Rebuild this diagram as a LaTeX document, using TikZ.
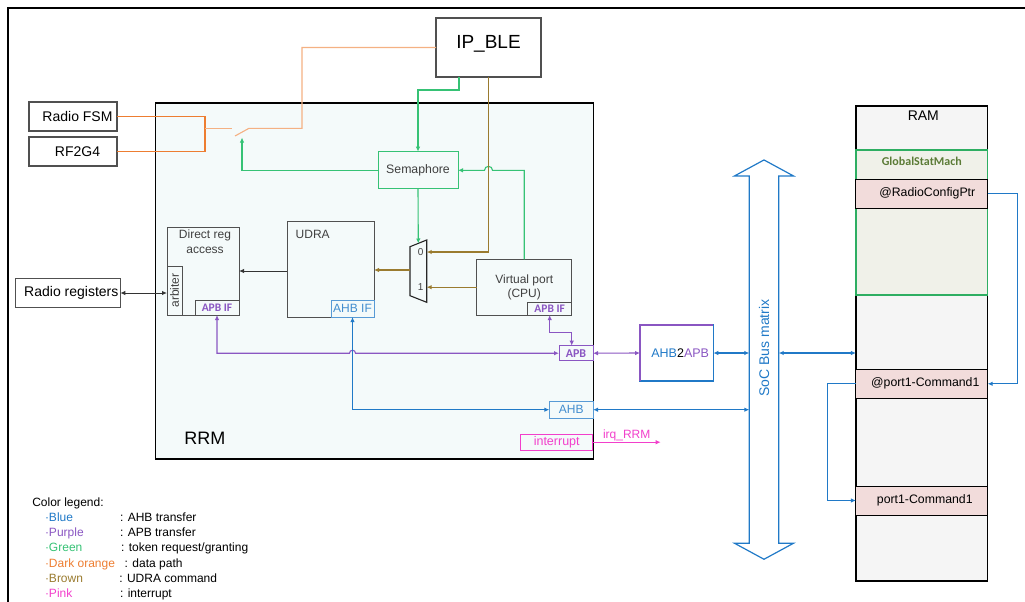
\documentclass[tikz,border=0pt]{standalone}
\usepackage{fontspec}
\setmainfont{Liberation Sans}
\newfontfamily\carlito{Carlito}
\usetikzlibrary{arrows.meta,calc,positioning}
\definecolor{rrmBlue}{HTML}{2079C7}
\definecolor{rrmPurple}{HTML}{8A56C2}
\definecolor{rrmGreen}{HTML}{36C275}
\definecolor{rrmOrange}{HTML}{ED7D31}
\definecolor{rrmLightOrange}{HTML}{F4B183}
\definecolor{rrmBrown}{HTML}{9A7B2F}
\definecolor{rrmPink}{HTML}{F23FCB}
\definecolor{rrmGray}{HTML}{505050}
\definecolor{rrmText}{HTML}{404040}
\definecolor{rrmFill}{HTML}{F4FAFA}
\definecolor{ramFill}{HTML}{F5F5F5}
\definecolor{ramPink}{HTML}{F2DCDB}
\definecolor{gsmFill}{HTML}{F0F1E9}
\definecolor{gsmGreen}{HTML}{2EAE62}
\definecolor{gsmText}{HTML}{5B7B36}

\begin{document}
\begin{tikzpicture}[x=1pt,y=-1pt, >={Latex[length=5pt,width=4.5pt]},
  every node/.style={inner sep=0pt, outer sep=0pt},
  extbox/.style={draw=rrmGray, line width=1.1pt, fill=white, font=\fontsize{14}{16}\selectfont},
  blockbox/.style={draw=rrmGray, line width=1pt, text=rrmText, font=\fontsize{12}{14}\selectfont, align=center},
  apbif/.style={draw=rrmGray, line width=1pt, text=rrmPurple, font=\carlito\bfseries\fontsize{11.5}{13}\selectfont},
  ahbif/.style={draw=rrmBlue!75, line width=1pt, text=rrmBlue!85, font=\fontsize{12}{14}\selectfont},
  ramslot/.style={draw=black, line width=1pt, fill=ramPink, minimum width=131.7pt, minimum height=29pt, font=\fontsize{12.3}{14}\selectfont},
  ahbline/.style={rrmBlue, line width=1.1pt},
  apbline/.style={rrmPurple, line width=1.1pt},
  tokline/.style={rrmGreen, line width=1.1pt},
  dataline/.style={rrmOrange, line width=1.1pt},
  lightdata/.style={rrmLightOrange, line width=1.1pt},
  udraline/.style={rrmBrown, line width=1.1pt},
  irqline/.style={rrmPink, line width=1.1pt},
  regline/.style={black!80, line width=1pt},
  legtext/.style={anchor=base west, font=\fontsize{12}{14}\selectfont}]
  \useasboundingbox (0,0) rectangle (1025,602);
  \draw[line width=1.5pt] (8,610) -- (8,8) -- (1030,8);

  % RRM block
  \node[draw=black, line width=1.5pt, fill=rrmFill, minimum width=438pt, minimum height=356pt,
    label={[anchor=base west, font=\fontsize{18}{20}\selectfont, xshift=28.8pt, yshift=14.3pt]south west:RRM}] (rrm) at (374.5,281.2) {};

  % outside blocks
  \node[extbox, minimum width=105pt, minimum height=59pt, font=\fontsize{19}{22}\selectfont, text depth=12pt] (ipble) at (488.5,47.5) {IP\_BLE};
  \node[extbox, minimum width=88pt, minimum height=29pt] (fsm) at (73,116.5) {\hspace*{9pt}Radio FSM};
  \node[extbox, minimum width=88pt, minimum height=29pt] (rf) at (73,151.5) {\hspace*{9pt}RF2G4};
  \node[extbox, minimum width=105pt, minimum height=29.4pt] (radreg) at (67.8,293) {\hspace*{7pt}Radio registers};

  % inside RRM
  \node[draw=rrmGreen, line width=1pt, minimum width=80pt, minimum height=37.3pt, text=rrmText, font=\fontsize{12.3}{14}\selectfont] (sema) at (418,170.3) {Semaphore};
  \node[blockbox, minimum width=72pt, minimum height=88pt,
    label={[anchor=north, align=center, text=rrmText, font=\fontsize{12}{15}\selectfont, yshift=-3pt, xshift=2pt]north:Direct reg\\access}] (direct) at (203,271) {};
  \node[blockbox, minimum width=15pt, minimum height=49pt] (arbiter) at (174.5,290.5) {};
  \node[rotate=90, text=rrmText, font=\fontsize{12}{14}\selectfont] (arbtext) at (arbiter.center) {arbiter};
  \node[apbif, minimum width=44pt, minimum height=15pt, anchor=south east] (apbifd) at (direct.south east) {APB IF};
  \node[blockbox, minimum width=87pt, minimum height=96pt,
    label={[anchor=north west, text=rrmText, font=\fontsize{12}{14}\selectfont, xshift=8.7pt, yshift=-9.7pt]north west:UDRA}] (udra) at (330.5,269) {};
  \node[ahbif, minimum width=43pt, minimum height=17pt, anchor=south east] (ahbifu) at (udra.south east) {AHB IF};
  \node[blockbox, minimum width=95pt, minimum height=55.7pt] (vport) at (524.2,287.2) {Virtual port\\(CPU)};
  \node[apbif, minimum width=44pt, minimum height=12.7pt, anchor=south east] (apbifv) at (vport.south east) {APB IF};

  % mux
  \draw[black!85, line width=1.1pt] (410,246.7) -- (426.7,240) -- (426.7,302.3) -- (410,295.7) -- cycle;
  \coordinate (muxsel) at (418.3,243.5);
  \coordinate (mux0) at (426.7,252);
  \coordinate (mux1) at (426.7,286.7);
  \coordinate (muxout) at (410,270);
  \node[font=\fontsize{10}{12}\selectfont, text=rrmText] (mux0txt) at (420.7,252) {0};
  \node[font=\fontsize{10}{12}\selectfont, text=rrmText] (mux1txt) at (420.7,286.7) {1};

  % bus ports
  \node[draw=rrmPurple, line width=1pt, minimum width=34pt, minimum height=15pt, text=rrmPurple, font=\carlito\bfseries\fontsize{12}{14}\selectfont] (apb) at (576,353.2) {APB};
  \node[ahbif, minimum width=43.7pt, minimum height=17.3pt] (ahb) at (571.2,409.7) {AHB};
  \node[draw=rrmPink, line width=1pt, minimum width=72pt, minimum height=15.7pt, text=rrmPink, font=\fontsize{12.5}{14}\selectfont] (intr) at (556.7,442.2) {interrupt};

  % bridge and bus matrix
  \node[draw=rrmBlue, line width=1.2pt, minimum width=73.3pt, minimum height=56pt, font=\fontsize{12.5}{14}\selectfont] (a2a) at (676.7,353) {\hspace*{7pt}\textcolor{rrmBlue}{AHB}2\textcolor{rrmPurple}{APB}};
  \draw[rrmPurple, line width=1.2pt] (a2a.south west) -- (a2a.north west) -- (a2a.north east);
  \node[minimum width=29.4pt, minimum height=367.3pt] (bus) at (764,359.6) {};
  \draw[ahbline, line width=1.2pt] (bus.north west) -- ++(-14.8,0) -- ($(bus.north)+(0,-16)$) -- ($(bus.north east)+(14.8,0)$) -- (bus.north east)
    -- (bus.south east) -- ++(14.8,0) -- ($(bus.south)+(0,16)$) -- ($(bus.south west)+(-14.8,0)$) -- (bus.south west) -- cycle;
  \node[rotate=90, text=rrmBlue, font=\fontsize{14}{16}\selectfont] (bustxt) at (764,348) {SoC Bus matrix};

  % RAM
  \node[draw=black, line width=1.1pt, fill=ramFill, minimum width=131.7pt, minimum height=475pt,
    label={[anchor=north, yshift=-5pt, xshift=1.5pt, font=\fontsize{14}{16}\selectfont]north:RAM}] (ram) at (921.8,343.5) {};
  \node[draw=gsmGreen, line width=1.1pt, fill=gsmFill, minimum width=131.7pt, minimum height=145pt,
    label={[anchor=north, yshift=-6.7pt, text=gsmText, font=\carlito\bfseries\fontsize{12}{14}\selectfont]north:GlobalStatMach}] (gsm) at (921.8,222.5) {};
  \node[ramslot] (rcp) at (921.8,193.8) {\hspace*{11pt}@RadioConfigPtr};
  \node[ramslot] (pc1) at (921.8,383.8) {\hspace*{7pt}@port1-Command1};
  \node[ramslot] (pcmd) at (921.8,500.5) {\hspace*{6pt}port1-Command1};

  % data path (orange)
  \coordinate (swjoin) at (205,128.3);
  \coordinate (swa) at (232,128.3);
  \coordinate (swp) at (235,136);
  \coordinate (swb) at (249,128.3);
  \coordinate (swg) at (242,137.5);
  \draw[dataline] (fsm.east) -| (swjoin);
  \draw[dataline] (rf.east) -| (swjoin);
  \draw[lightdata] (swjoin) -- (swa);
  \draw[lightdata] (swp) -- (swb) -- ($(swb)+(53,0)$) |- (ipble.west);

  % token request/granting (green)
  \draw[tokline,->] ([xshift=-29.5pt]ipble.south) -- ++(0,13) -| (sema.north);
  \draw[tokline,->] (sema.west) -| (swg);
  \draw[tokline,->] (sema.south) -- (muxsel);
  \draw[tokline,->] (vport.north) |- ($(ipble.south |- sema.east)+(4,0)$) arc[start angle=0, end angle=-180, radius=4] -- (sema.east);

  % UDRA command (brown)
  \draw[udraline,->] (ipble.south) |- (mux0);
  \draw[udraline,->] (vport.west) -- (vport.west -| mux1);
  \draw[udraline,->] (muxout) -- (muxout -| udra.east);

  % register access
  \draw[regline,->] (udra.west |- direct.east) -- (direct.east);
  \draw[regline,<->] (radreg.east) -- (radreg.east -| arbiter.west);

  % APB transfer (purple)
  \draw[apbline,<->] (apbifd.south) |- ($(ahbifu.south |- apb.west)+(-3,0)$) arc[start angle=-180, end angle=0, radius=3] -- (apb.west);
  \draw[apbline,<->] (apbifv.south) -- ++(0,17) -| ([xshift=-4.3pt]apb.north);
  \draw[apbline,<->] (apb.east) -- (a2a.west);

  % AHB transfer (blue)
  \draw[ahbline,<->] (ahbifu.south) |- (ahb.west);
  \draw[ahbline,<->] (ahb.east) -- (ahb.east -| bus.west);
  \draw[ahbline,<->] (a2a.east) -- (a2a.east -| bus.west);
  \draw[ahbline,<->] (bus.east |- a2a.east) -- (ram.west |- a2a.east);
  \draw[ahbline,->] (rcp.east) -- ++(30,0) |- (pc1.east);
  \draw[ahbline,->] (pc1.west) -- ++(-28.7,0) |- (pcmd.west);

  % interrupt (pink)
  \draw[irqline,->] (intr.east) -- ++(68,0) node[midway, above=1.5pt, text=rrmPink, font=\fontsize{12}{14}\selectfont] (irqlbl) {irq\_RRM};

  % legend
  \node[legtext] (legtitle) at (32.3,506.7) {Color legend:};
  \node[legtext, text=rrmBlue] (legblue) at (45,521.7) {·Blue};
  \node[legtext] (legbluetxt) at (120,521.7) {: AHB transfer};
  \node[legtext, text=rrmPurple] (legpurple) at (45,536.7) {·Purple};
  \node[legtext] (legpurpletxt) at (120,536.7) {: APB transfer};
  \node[legtext, text=rrmGreen] (leggreen) at (45,551.7) {·Green};
  \node[legtext] (leggreentxt) at (121,551.7) {: token request/granting};
  \node[legtext, text=rrmOrange] (legorange) at (45,567) {·Dark orange};
  \node[legtext] (legorangetxt) at (124.7,567) {: data path};
  \node[legtext, text=rrmBrown] (legbrown) at (45,582.7) {·Brown};
  \node[legtext] (legbrowntxt) at (119.3,582.7) {: UDRA command};
  \node[legtext, text=rrmPink] (legpink) at (45,597.7) {·Pink};
  \node[legtext] (legpinktxt) at (120,597.7) {: interrupt};
\end{tikzpicture}
\end{document}
